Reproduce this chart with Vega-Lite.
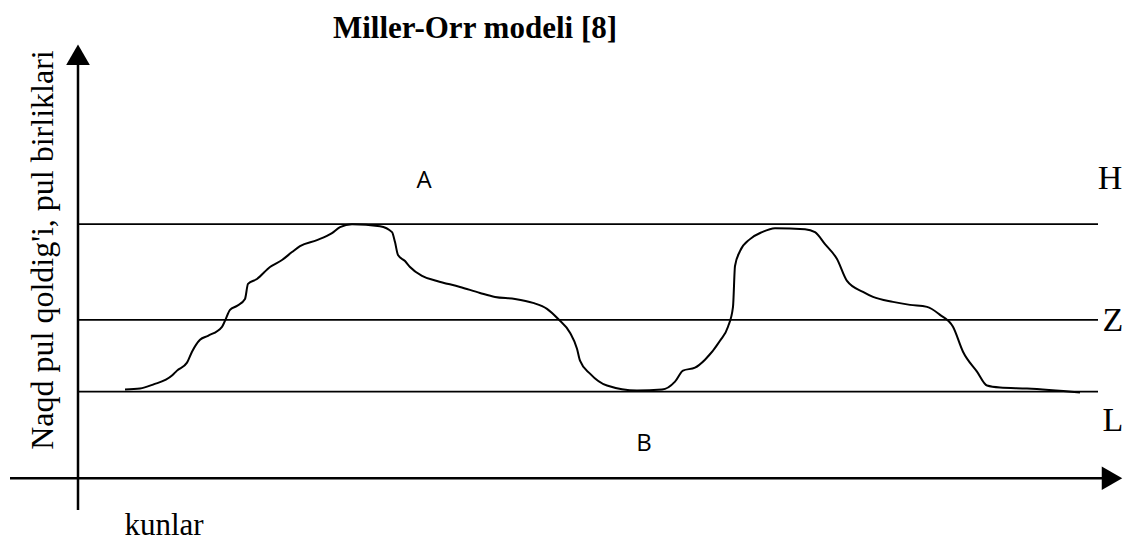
{
  "$schema": "https://vega.github.io/schema/vega-lite/v6.json",
  "width": 1126,
  "height": 541,
  "autosize": {"type": "fit", "contains": "padding"},
  "padding": 0,
  "background": "white",
  "config": {"view": {"stroke": null}},
  "datasets": {
    "curve": [
      {"kun": 47, "qoldiq": 89}, {"kun": 62, "qoldiq": 90}, {"kun": 75, "qoldiq": 94}, {"kun": 94, "qoldiq": 103},
      {"kun": 99, "qoldiq": 108}, {"kun": 109, "qoldiq": 116}, {"kun": 114, "qoldiq": 127}, {"kun": 122, "qoldiq": 139},
      {"kun": 130, "qoldiq": 143}, {"kun": 144, "qoldiq": 152}, {"kun": 147, "qoldiq": 158}, {"kun": 152, "qoldiq": 169},
      {"kun": 159, "qoldiq": 173}, {"kun": 167, "qoldiq": 180}, {"kun": 170, "qoldiq": 195}, {"kun": 179, "qoldiq": 200},
      {"kun": 192, "qoldiq": 212}, {"kun": 204, "qoldiq": 219}, {"kun": 214, "qoldiq": 227}, {"kun": 222, "qoldiq": 233},
      {"kun": 239, "qoldiq": 239}, {"kun": 254, "qoldiq": 246}, {"kun": 262, "qoldiq": 252}, {"kun": 274, "qoldiq": 255},
      {"kun": 302, "qoldiq": 253}, {"kun": 314, "qoldiq": 247}, {"kun": 317, "qoldiq": 237}, {"kun": 320, "qoldiq": 224},
      {"kun": 327, "qoldiq": 218}, {"kun": 332, "qoldiq": 212}, {"kun": 344, "qoldiq": 203}, {"kun": 359, "qoldiq": 198},
      {"kun": 382, "qoldiq": 192}, {"kun": 402, "qoldiq": 186}, {"kun": 417, "qoldiq": 182}, {"kun": 437, "qoldiq": 180},
      {"kun": 455, "qoldiq": 176}, {"kun": 469, "qoldiq": 170}, {"kun": 480, "qoldiq": 160}, {"kun": 492, "qoldiq": 146},
      {"kun": 499, "qoldiq": 130}, {"kun": 502, "qoldiq": 118}, {"kun": 512, "qoldiq": 105}, {"kun": 529, "qoldiq": 93},
      {"kun": 559, "qoldiq": 88}, {"kun": 584, "qoldiq": 89}, {"kun": 597, "qoldiq": 97}, {"kun": 605, "qoldiq": 108},
      {"kun": 617, "qoldiq": 111}, {"kun": 627, "qoldiq": 119}, {"kun": 642, "qoldiq": 138}, {"kun": 650, "qoldiq": 152},
      {"kun": 655, "qoldiq": 172}, {"kun": 657, "qoldiq": 213}, {"kun": 662, "qoldiq": 228}, {"kun": 672, "qoldiq": 240},
      {"kun": 684, "qoldiq": 247}, {"kun": 697, "qoldiq": 251}, {"kun": 727, "qoldiq": 250}, {"kun": 737, "qoldiq": 247},
      {"kun": 747, "qoldiq": 235}, {"kun": 759, "qoldiq": 220}, {"kun": 769, "qoldiq": 198}, {"kun": 785, "qoldiq": 187},
      {"kun": 795, "qoldiq": 182}, {"kun": 815, "qoldiq": 177}, {"kun": 832, "qoldiq": 174}, {"kun": 849, "qoldiq": 172},
      {"kun": 862, "qoldiq": 164}, {"kun": 875, "qoldiq": 152}, {"kun": 885, "qoldiq": 127}, {"kun": 899, "qoldiq": 107},
      {"kun": 909, "qoldiq": 93}, {"kun": 922, "qoldiq": 91}, {"kun": 949, "qoldiq": 90}, {"kun": 1002, "qoldiq": 86}
    ],
    "levels": [
      {"name": "H", "level": 255, "start": 0, "end": 1020, "lx": 1032, "ly": 290},
      {"name": "Z", "level": 159, "start": 0, "end": 1020, "lx": 1035, "ly": 148},
      {"name": "L", "level": 87, "start": 0, "end": 1020, "lx": 1035, "ly": 47}
    ],
    "axes": [
      {"x1": -68, "x2": 1032, "y1": 0, "y2": 0},
      {"x1": 0, "x2": 0, "y1": -32, "y2": 420}
    ],
    "arrows": [
      {"x": 1034, "y": 0, "shape": "triangle-right"},
      {"x": 0, "y": 425, "shape": "triangle-up"}
    ],
    "zones": [
      {"t": "A", "x": 346, "y": 291},
      {"t": "B", "x": 566, "y": 27}
    ]
  },
  "layer": [
    {
      "data": {"name": "levels"},
      "mark": {"type": "rule", "color": "black", "strokeWidth": 1.7},
      "encoding": {
        "x": {"field": "start", "type": "quantitative", "scale": {"domain": [-78, 1048], "nice": false, "zero": false}, "axis": null},
        "x2": {"field": "end"},
        "y": {"field": "level", "type": "quantitative", "scale": {"domain": [-61, 480], "nice": false, "zero": false}, "axis": null}
      }
    },
    {
      "data": {"name": "levels"},
      "mark": {"type": "text", "font": "Liberation Serif", "fontSize": 34, "align": "center", "baseline": "alphabetic", "color": "black"},
      "encoding": {
        "x": {"field": "lx", "type": "quantitative"},
        "y": {"field": "ly", "type": "quantitative"},
        "text": {"field": "name"}
      }
    },
    {
      "data": {"name": "axes"},
      "mark": {"type": "rule", "color": "black", "strokeWidth": 2.5},
      "encoding": {
        "x": {"field": "x1", "type": "quantitative"},
        "x2": {"field": "x2"},
        "y": {"field": "y1", "type": "quantitative"},
        "y2": {"field": "y2"}
      }
    },
    {
      "data": {"name": "arrows"},
      "mark": {"type": "point", "filled": true, "color": "black", "opacity": 1, "size": 560},
      "encoding": {
        "x": {"field": "x", "type": "quantitative"},
        "y": {"field": "y", "type": "quantitative"},
        "shape": {"field": "shape", "type": "nominal", "scale": null, "legend": null}
      }
    },
    {
      "data": {"name": "curve"},
      "mark": {"type": "line", "color": "black", "strokeWidth": 2, "interpolate": "monotone"},
      "encoding": {
        "x": {"field": "kun", "type": "quantitative"},
        "y": {"field": "qoldiq", "type": "quantitative"}
      }
    },
    {
      "data": {"name": "zones"},
      "mark": {"type": "text", "font": "Open Sans", "fontSize": 24, "align": "center", "baseline": "alphabetic", "color": "black"},
      "encoding": {
        "x": {"field": "x", "type": "quantitative"},
        "y": {"field": "y", "type": "quantitative"},
        "text": {"field": "t"}
      }
    },
    {
      "data": {"values": [{"t": "Miller-Orr modeli [8]", "x": 397, "y": 442}]},
      "mark": {"type": "text", "font": "Liberation Serif", "fontSize": 31, "fontWeight": "bold", "align": "center", "baseline": "alphabetic", "color": "black"},
      "encoding": {
        "x": {"field": "x", "type": "quantitative"},
        "y": {"field": "y", "type": "quantitative"},
        "text": {"field": "t"}
      }
    },
    {
      "data": {"values": [{"t": "kunlar", "x": 86, "y": -57}]},
      "mark": {"type": "text", "font": "Liberation Serif", "fontSize": 31, "align": "center", "baseline": "alphabetic", "color": "black"},
      "encoding": {
        "x": {"field": "x", "type": "quantitative"},
        "y": {"field": "y", "type": "quantitative"},
        "text": {"field": "t"}
      }
    },
    {
      "data": {"values": [{"t": "Naqd pul qoldig'i, pul birliklari", "x": -25, "y": 229}]},
      "mark": {"type": "text", "font": "Liberation Serif", "fontSize": 32, "angle": 270, "align": "center", "baseline": "alphabetic", "color": "black"},
      "encoding": {
        "x": {"field": "x", "type": "quantitative"},
        "y": {"field": "y", "type": "quantitative"},
        "text": {"field": "t"}
      }
    }
  ]
}
